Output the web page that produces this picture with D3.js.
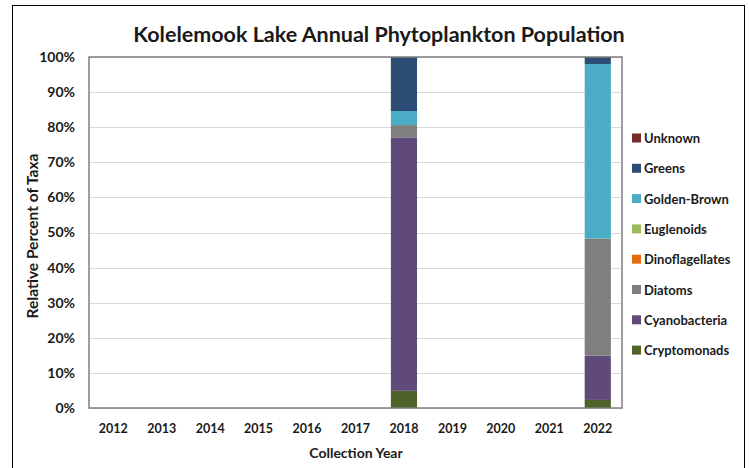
<!DOCTYPE html>
<html lang="en">
  <head>
    <meta charset="UTF-8" />
    <title>Kolelemook Lake Annual Phytoplankton Population</title>
    <style>
      body {
        margin: 0;
        background: #fff;
      }
      text {
        font-family: Lato, "Open Sans", sans-serif;
        font-weight: bold;
        fill: #1a1a1a;
      }
    </style>
  </head>

  <body>
    <script src="https://cdn.jsdelivr.net/npm/d3@7"></script>
    <script>
      // données (pourcentages)
      const annees = ["2012", "2013", "2014", "2015", "2016", "2017", "2018", "2019", "2020", "2021", "2022"];
      const groupes = ["Cryptomonads", "Cyanobacteria", "Diatoms", "Dinoflagellates", "Euglenoids", "Golden-Brown", "Greens", "Unknown"];
      const cryptomonads = [0, 0, 0, 0, 0, 0, 4.9, 0, 0, 0, 2.3];
      const cyanobacteria = [0, 0, 0, 0, 0, 0, 72.2, 0, 0, 0, 12.6];
      const diatoms = [0, 0, 0, 0, 0, 0, 3.5, 0, 0, 0, 33.4];
      const dinoflagellates = [0, 0, 0, 0, 0, 0, 0, 0, 0, 0, 0];
      const euglenoids = [0, 0, 0, 0, 0, 0, 0, 0, 0, 0, 0];
      const goldenBrown = [0, 0, 0, 0, 0, 0, 4.0, 0, 0, 0, 49.7];
      const greens = [0, 0, 0, 0, 0, 0, 15.4, 0, 0, 0, 2.0];
      const unknown = [0, 0, 0, 0, 0, 0, 0, 0, 0, 0, 0];
      const couleurs = ["#4f6228", "#604a7b", "#7f7f7f", "#e46c0a", "#9bbb59", "#4bacc6", "#2c4d75", "#772c2a"];
      const ticksY = [0, 10, 20, 30, 40, 50, 60, 70, 80, 90, 100];

      const series = [cryptomonads, cyanobacteria, diatoms, dinoflagellates, euglenoids, goldenBrown, greens, unknown];

      const largeur = 749;
      const hauteur = 468;

      const svg = d3
        .select("body")
        .append("svg")
        .attr("width", largeur)
        .attr("height", hauteur);

      // cadre extérieur
      svg
        .append("rect")
        .attr("x", 12.5)
        .attr("y", 5.5)
        .attr("width", 732)
        .attr("height", 480)
        .attr("fill", "none")
        .attr("stroke", "#000")
        .attr("stroke-width", 1);

      const zone = { gauche: 89, droite: 622, haut: 57, bas: 408 };

      const x = d3
        .scaleBand()
        .domain(annees)
        .range([zone.gauche, zone.droite])
        .paddingInner(0.46)
        .paddingOuter(0.23);

      const y = d3.scaleLinear().domain([0, 100]).range([zone.bas, zone.haut]);

      // lignes de grille
      svg
        .append("g")
        .selectAll("line")
        .data(ticksY)
        .enter()
        .append("line")
        .attr("x1", zone.gauche)
        .attr("x2", zone.droite)
        .attr("y1", (d) => Math.round(y(d)) + 0.5)
        .attr("y2", (d) => Math.round(y(d)) + 0.5)
        .attr("stroke", "#d9d9d9");

      // table empilée
      const table = annees.map((annee, i) => {
        const ligne = { annee: annee };
        groupes.forEach((g, j) => (ligne[g] = series[j][i]));
        return ligne;
      });
      const pile = d3.stack().keys(groupes)(table);

      svg
        .append("g")
        .selectAll("g")
        .data(pile)
        .enter()
        .append("g")
        .attr("fill", (d, i) => couleurs[i])
        .selectAll("rect")
        .data((d) => d)
        .enter()
        .append("rect")
        .attr("x", (d) => x(d.data.annee))
        .attr("width", x.bandwidth())
        .attr("y", (d) => y(d[1]))
        .attr("height", (d) => y(d[0]) - y(d[1]));

      // bordure de la zone de tracé
      svg
        .append("rect")
        .attr("x", zone.gauche)
        .attr("y", zone.haut)
        .attr("width", zone.droite - zone.gauche)
        .attr("height", zone.bas - zone.haut)
        .attr("fill", "none")
        .attr("stroke", "#7f7f7f")
        .attr("stroke-width", 1.5);

      // axe Y
      const axeY = svg
        .append("g")
        .attr("transform", `translate(${zone.gauche},0)`)
        .call(
          d3
            .axisLeft(y)
            .tickValues(ticksY)
            .tickFormat((d) => d + "%")
            .tickSize(0)
            .tickPadding(14)
        );
      axeY.select(".domain").remove();
      axeY.selectAll("text").attr("font-size", 14).attr("font-family", null);

      // axe X
      const axeX = svg
        .append("g")
        .attr("transform", `translate(0,${zone.bas})`)
        .call(d3.axisBottom(x).tickSize(0).tickPadding(16));
      axeX.select(".domain").remove();
      axeX.selectAll("text").attr("font-size", 12.5).attr("font-family", null);

      // titres
      svg
        .append("text")
        .attr("x", 379)
        .attr("y", 42)
        .attr("text-anchor", "middle")
        .attr("font-size", 21.5)
        .text("Kolelemook Lake Annual Phytoplankton Population");

      svg
        .append("text")
        .attr("x", 356)
        .attr("y", 458)
        .attr("text-anchor", "middle")
        .attr("font-size", 14)
        .text("Collection Year");

      svg
        .append("text")
        .attr("transform", "translate(38,236) rotate(-90)")
        .attr("text-anchor", "middle")
        .attr("font-size", 15.5)
        .text("Relative Percent of Taxa");

      // légende
      const legende = svg
        .append("g")
        .selectAll("g")
        .data(groupes.slice().reverse())
        .enter()
        .append("g")
        .attr("transform", (d, i) => `translate(632,${138 + i * 30.3})`);

      legende
        .append("rect")
        .attr("x", 0)
        .attr("y", -4.5)
        .attr("width", 9)
        .attr("height", 9)
        .attr("fill", (d) => couleurs[groupes.indexOf(d)]);

      legende
        .append("text")
        .attr("x", 12)
        .attr("y", 5)
        .attr("font-size", 13)
        .text((d) => d);
    </script>
  </body>
</html>
